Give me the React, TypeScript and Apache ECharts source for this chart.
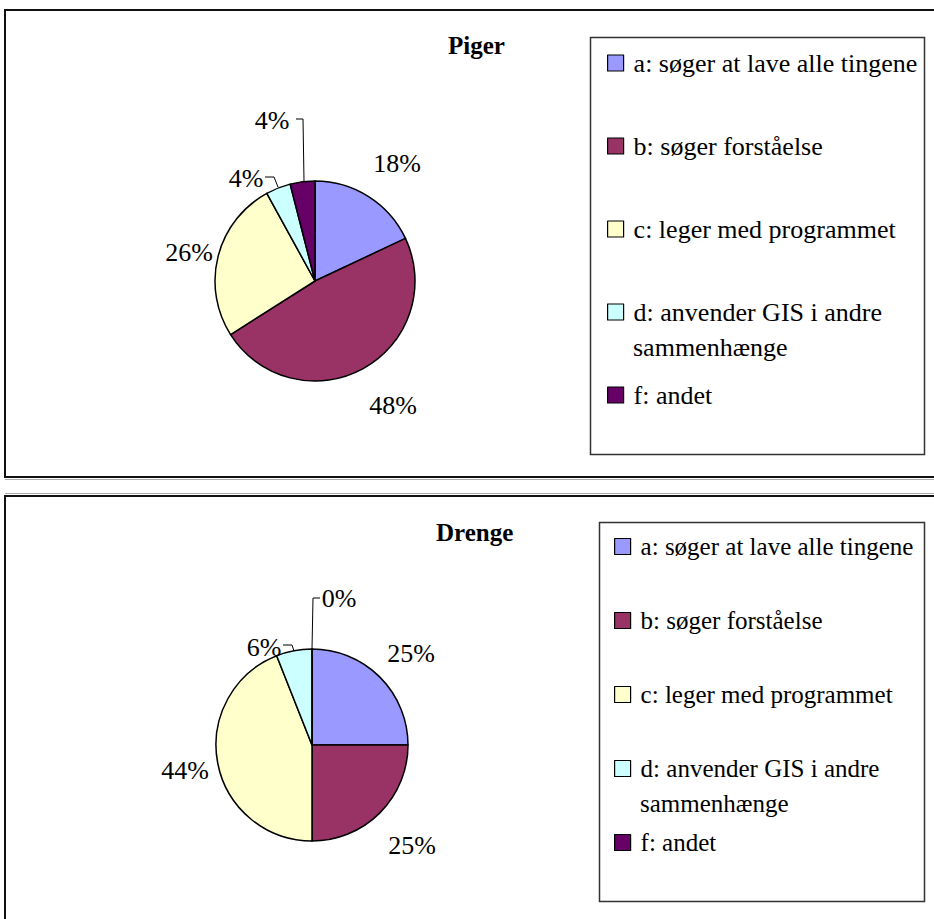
import React, { useEffect, useRef } from "react";
import * as echarts from "echarts";

const CATEGORIES = [
  "a: søger at lave alle tingene",
  "b: søger forståelse",
  "c: leger med programmet",
  "d: anvender GIS i andre sammenhænge",
  "f: andet",
];
const COLORS = ["#9999FF", "#993366", "#FFFFCC", "#CCFFFF", "#660066"];
const PIGER_VALUES = [18, 48, 26, 4, 4];
const DRENGE_VALUES = [25, 25, 44, 6, 0];
const TITLES = ["Piger", "Drenge"];

const FONT = '"Liberation Serif", "Times New Roman", serif';

// label anchor positions (pixels) per chart / slice
const LABEL_POS = [
  [[397, 163], [393, 405], [189, 252], [246, 178], [272, 120]],
  [[411, 653], [412, 845], [185, 770], [264, 647], [339, 598]],
];
const LEADERS: (number[][] | null)[][] = [
  [null, null, null, [[265, 177], [274, 177], [278, 187]], [[296, 119], [303, 119], [304, 181]]],
  [null, null, null, [[283, 645], [292, 645], [294, 651]], [[320, 598], [313, 598], [312, 649]]],
];
const CENTERS = [[315, 281], [312, 745]];
const RADII = [100, 96];

export default function App() {
  const ref = useRef<HTMLDivElement>(null);
  useEffect(() => {
    if (!ref.current) return;
    const chart = echarts.init(ref.current, null, { renderer: "svg" });
    const seriesValues = [PIGER_VALUES, DRENGE_VALUES];
    const series = seriesValues.map((values, i) => ({
      type: "pie",
      name: TITLES[i],
      center: CENTERS[i],
      radius: RADII[i],
      startAngle: 90,
      clockwise: true,
      avoidLabelOverlap: false,
      percentPrecision: 0,
      emphasis: { disabled: true },
      itemStyle: { borderColor: "#000", borderWidth: 1.5 },
      label: {
        show: true,
        position: "outside",
        formatter: "{d}%",
        fontSize: 26,
        fontFamily: FONT,
        color: "#000",
      },
      labelLine: { show: false, lineStyle: { color: "#000", width: 1 } },
      labelLayout: (p: any) => {
        const pos = LABEL_POS[i][p.dataIndex];
        const pts = LEADERS[i][p.dataIndex];
        const o: any = { x: pos[0], y: pos[1], align: "center", verticalAlign: "middle" };
        if (pts) o.labelLinePoints = pts;
        return o;
      },
      data: values.map((v, j) => ({
        name: CATEGORIES[j],
        value: v,
        itemStyle: { color: COLORS[j] },
        labelLine: { show: !!LEADERS[i][j] },
      })),
    }));

    const legendLeft = [607, 614];
    const legendTop = [50, 534];
    const legendGap = [57, 49];
    const legendFont = [26, 25];

    chart.setOption({
      animation: false,
      backgroundColor: "#fff",
      title: [
        {
          text: TITLES[0],
          left: 448,
          top: 33,
          padding: 0,
          textStyle: { fontSize: 25, fontWeight: "bold", fontFamily: FONT, color: "#000" },
        },
        {
          text: TITLES[1],
          left: 436,
          top: 520,
          padding: 0,
          textStyle: { fontSize: 25, fontWeight: "bold", fontFamily: FONT, color: "#000" },
        },
      ],
      legend: [0, 1].map((i) => ({
        data: CATEGORIES,
        orient: "vertical",
        left: legendLeft[i],
        top: legendTop[i],
        itemWidth: 16,
        itemHeight: 16,
        itemGap: legendGap[i],
        icon: "rect",
        padding: 0,
        selectedMode: false,
        itemStyle: { borderColor: "#000", borderWidth: 1.2 },
        textStyle: {
          fontSize: legendFont[i],
          fontFamily: FONT,
          color: "#000",
          padding: [0, 0, 0, 5],
        },
        formatter: (n: string) => (n.startsWith("d:") ? "d: anvender GIS i andre" : n),
      })),
      graphic: [
        {
          type: "rect",
          shape: { x: 5, y: 10, width: 940, height: 467 },
          style: { fill: "none", stroke: "#111", lineWidth: 2 },
        },
        {
          type: "line",
          shape: { x1: 5, y1: 479.5, x2: 934, y2: 479.5 },
          style: { stroke: "#aaa", lineWidth: 1 },
        },
        {
          type: "line",
          shape: { x1: 5, y1: 493.5, x2: 934, y2: 493.5 },
          style: { stroke: "#aaa", lineWidth: 1 },
        },
        {
          type: "rect",
          shape: { x: 5, y: 496, width: 940, height: 440 },
          style: { fill: "none", stroke: "#111", lineWidth: 2 },
        },
        {
          type: "rect",
          shape: { x: 590.5, y: 37.5, width: 334, height: 417 },
          style: { fill: "none", stroke: "#333", lineWidth: 1.5 },
        },
        {
          type: "rect",
          shape: { x: 599.5, y: 522.5, width: 325, height: 379 },
          style: { fill: "none", stroke: "#333", lineWidth: 1.5 },
        },
        {
          type: "text",
          x: 633,
          y: 347,
          style: {
            text: "sammenhænge",
            fill: "#000",
            font: `26px ${FONT}`,
            textVerticalAlign: "middle",
            verticalAlign: "middle",
          },
        },
        {
          type: "text",
          x: 640,
          y: 803,
          style: {
            text: "sammenhænge",
            fill: "#000",
            font: `25px ${FONT}`,
            textVerticalAlign: "middle",
            verticalAlign: "middle",
          },
        },
      ],
      series,
    });
    return () => chart.dispose();
  }, []);
  return (
    <div
      ref={ref}
      style={{ position: "absolute", left: 0, top: 0, width: 934, height: 919 }}
    />
  );
}
